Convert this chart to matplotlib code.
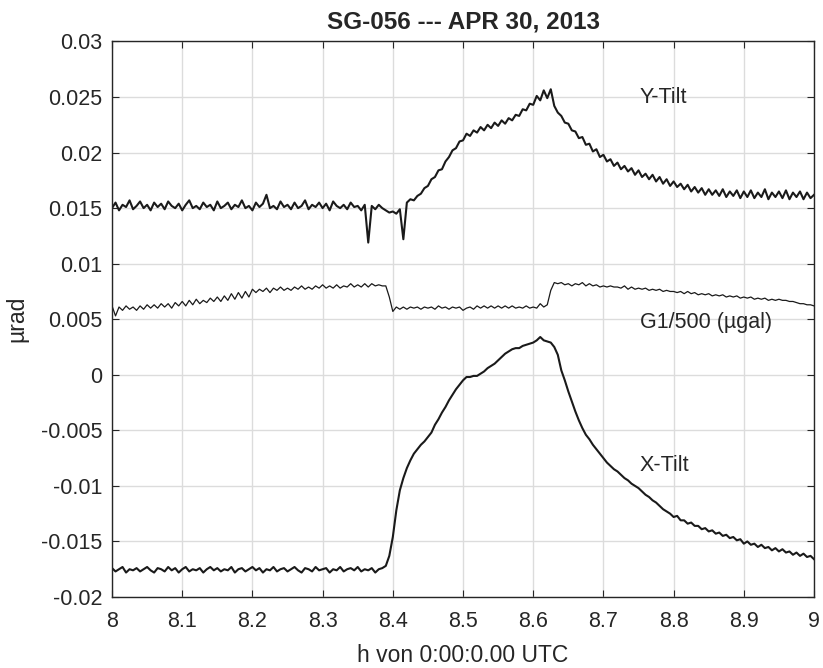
import matplotlib
matplotlib.use("Agg")
import matplotlib.pyplot as plt
import numpy as np
from matplotlib.ticker import FuncFormatter, MultipleLocator

plt.rcParams['font.family'] = ['Liberation Sans', 'DejaVu Sans']
plt.rcParams['axes.unicode_minus'] = False

# samples every 0.005 h, values in units of 1e-4 urad
hours = np.linspace(8.0, 9.0, 201)

y_tilt = [
    150, 155, 148, 153, 151, 157, 149, 152, 156, 150,
    153, 148, 155, 151, 154, 149, 156, 152, 150, 154,
    148, 153, 157, 150, 152, 149, 155, 151, 153, 148,
    156, 150, 152, 155, 149, 153, 151, 157, 150, 152,
    148, 155, 151, 154, 162, 150, 152, 149, 156, 151,
    153, 149, 155, 150, 152, 157, 149, 153, 151, 155,
    150, 154, 148, 156, 152, 150, 153, 149, 155, 151,
    152, 148, 153, 119, 152, 149, 153, 150, 148, 146,
    147, 145, 149, 122, 155, 158, 157, 161, 163, 168,
    170, 176, 178, 184, 185, 192, 196, 202, 204, 210,
    211, 217, 215, 220, 218, 223, 220, 225, 222, 227,
    224, 229, 226, 231, 229, 234, 233, 239, 238, 244,
    243, 251, 247, 256, 249, 257, 242, 236, 233, 227,
    226, 220, 219, 213, 214, 207, 208, 201, 203, 196,
    198, 192, 194, 188, 191, 185, 188, 183, 186, 180,
    184, 178, 181, 176, 180, 174, 178, 172, 176, 170,
    174, 169, 172, 167, 171, 165, 169, 164, 168, 162,
    167, 162, 166, 161, 167, 160, 165, 161, 166, 159,
    165, 160, 166, 159, 164, 160, 167, 158, 164, 160,
    165, 159, 166, 158, 164, 160, 165, 158, 164, 159,
    162,
]

x_tilt = [
    -174, -177, -175, -173, -178, -175, -176, -174, -177, -175,
    -173, -176, -178, -174, -175, -177, -173, -176, -174, -178,
    -175, -173, -177, -175, -176, -174, -178, -175, -173, -176,
    -174, -177, -175, -176, -173, -178, -175, -174, -177, -175,
    -173, -176, -174, -178, -175, -176, -173, -177, -175, -174,
    -177, -175, -173, -176, -178, -174, -175, -177, -173, -176,
    -175, -174, -178, -175, -176, -173, -177, -175, -174, -176,
    -173, -177, -175, -176, -174, -178, -175, -174, -172, -163,
    -146, -122, -104, -93, -84, -77, -71, -67, -63, -60,
    -56, -52, -45, -40, -34, -29, -23, -18, -13, -9,
    -5, -2, -2, -1, -1, 1, 3, 6, 8, 10,
    13, 16, 19, 21, 23, 24, 24, 26, 27, 28,
    29, 31, 34, 31, 30, 29, 25, 18, 4, -5,
    -15, -24, -33, -41, -48, -54, -58, -63, -67, -71,
    -75, -79, -82, -85, -87, -90, -93, -95, -98, -100,
    -102, -105, -108, -110, -113, -115, -118, -121, -123, -125,
    -128, -127, -131, -131, -134, -133, -136, -136, -139, -138,
    -141, -140, -143, -142, -145, -144, -147, -146, -149, -148,
    -152, -150, -153, -152, -155, -153, -156, -155, -158, -156,
    -159, -157, -160, -159, -162, -160, -163, -161, -164, -163,
    -166,
]

g1_500 = [
    62, 53, 61, 58, 62, 59, 61, 58, 62, 59,
    63, 60, 63, 60, 64, 61, 64, 60, 65, 62,
    66, 62, 67, 63, 68, 64, 67, 65, 69, 66,
    70, 66, 71, 67, 73, 68, 74, 69, 75, 70,
    77, 74, 77, 75, 78, 74, 78, 76, 79, 76,
    78, 76, 79, 77, 80, 77, 79, 77, 80, 78,
    81, 78, 80, 78, 81, 78, 80, 79, 82, 79,
    81, 79, 82, 79, 82, 80, 81, 80, 80, 70,
    57, 61, 59, 61, 59, 61, 60, 61, 59, 61,
    60, 61, 59, 62, 60, 61, 59, 61, 60, 61,
    58, 60, 61, 59, 62, 60, 62, 60, 62, 60,
    62, 60, 62, 60, 62, 60, 61, 60, 62, 60,
    61, 60, 64, 61, 63, 76, 83, 82, 83, 81,
    82, 80, 82, 81, 83, 80, 82, 80, 81, 79,
    80, 79, 80, 79, 79, 78, 80, 77, 79, 77,
    78, 77, 78, 76, 77, 76, 77, 75, 76, 75,
    75, 74, 75, 73, 75, 73, 74, 72, 73, 72,
    73, 71, 72, 71, 72, 70, 71, 70, 71, 69,
    70, 69, 70, 68, 69, 68, 69, 67, 68, 67,
    68, 67, 67, 66, 66, 65, 64, 64, 63, 63,
    62,
]

scale = 1e-4

fig = plt.figure(figsize=(8.23, 6.68), dpi=100)
ax = fig.add_axes([0.1361, 0.1063, 0.8530, 0.8316])

line_col = '#1a1a1a'
ax.plot(hours, np.array(y_tilt) * scale, color=line_col, lw=1.5)
ax.plot(hours, np.array(g1_500) * scale, color=line_col, lw=0.9)
ax.plot(hours, np.array(x_tilt) * scale, color=line_col, lw=1.5)

ax.set_xlim(8, 9)
ax.set_ylim(-0.02, 0.03)
ax.xaxis.set_major_locator(MultipleLocator(0.1))
ax.yaxis.set_major_locator(MultipleLocator(0.005))
ax.xaxis.set_major_formatter(FuncFormatter(lambda v, p: '%g' % round(v, 4)))
ax.yaxis.set_major_formatter(FuncFormatter(lambda v, p: '%g' % round(v, 6)))

ax.grid(True, color='#dcdcdc', lw=1.0)
ax.set_axisbelow(True)
for s in ax.spines.values():
    s.set_color('#262626')
    s.set_linewidth(1.0)
ax.tick_params(direction='in', length=5, width=0.8, color='#262626',
               top=True, right=True, labelsize=15.5, labelcolor='#262626')
ax.tick_params(axis='y', pad=7)
ax.tick_params(axis='x', pad=10)

ax.set_title('SG-056 --- APR 30, 2013', fontsize=17.5, fontweight='bold',
             color='#262626', pad=9)
ax.set_xlabel('h von 0:00:0.00 UTC', fontsize=16.5, color='#262626', labelpad=9)
ax.set_ylabel('µrad', fontsize=16.5, color='#262626', labelpad=9)

ax.text(8.752, 0.02495, 'Y-Tilt', fontsize=15.5, ha='left', va='center', color='#262626')
ax.text(8.752, 0.00473, 'G1/500 (µgal)', fontsize=15.5, ha='left', va='center', color='#262626')
ax.text(8.752, -0.00815, 'X-Tilt', fontsize=15.5, ha='left', va='center', color='#262626')

fig.savefig('out.png', dpi=100)
